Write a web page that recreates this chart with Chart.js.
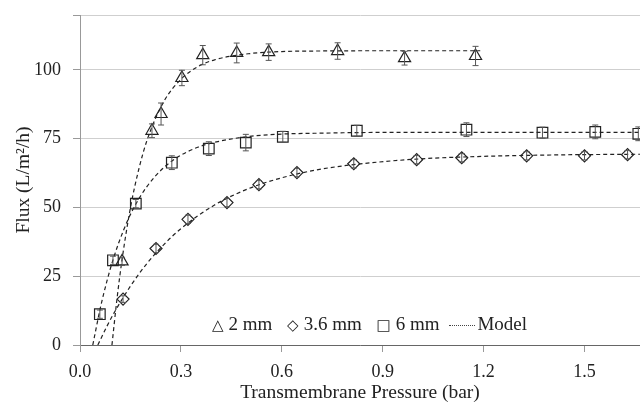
<!DOCTYPE html>
<html>
<head>
<meta charset="utf-8">
<script src="https://cdn.jsdelivr.net/npm/chart.js@4.4.0/dist/chart.umd.min.js"></script>
<style>
  html, body { margin: 0; padding: 0; background: #fff; overflow: hidden; }
  #wrap { position: relative; width: 640px; height: 405px; }
  #legend { position: absolute; left: 212px; top: 312px; font-family: 'Liberation Serif', serif; font-size: 19px; line-height: 24px; color: #222; white-space: nowrap; }
  #legend .mk { font-family: 'DejaVu Sans', sans-serif; font-size: 15px; margin-right: 5px; }
  #legend .it { margin-right: 10px; }
  #legend .ln { display: inline-block; width: 26px; border-top: 1px dotted #444; vertical-align: middle; margin-right: 2px; }
</style>
</head>
<body>
<div id="wrap">
  <canvas id="myChart" width="640" height="405"></canvas>
  <div id="legend">
    <span class="mk">△</span><span class="it">2 mm</span>
    <span class="mk">◇</span><span class="it">3.6 mm</span>
    <span class="mk">□</span><span class="it">6 mm</span><span class="ln"></span>Model
  </div>
</div>
<script>
// measured points, 2 mm channel
var P2 = [0.125, 0.214, 0.241, 0.303, 0.365, 0.466, 0.561, 0.766, 0.965, 1.176];
var J2 = [30.4, 77.9, 84.0, 97.1, 105.4, 106.2, 106.5, 106.9, 104.3, 105.1];
var E2 = [1.5, 2.5, 4.0, 2.8, 3.5, 3.6, 3.0, 3.0, 2.5, 3.5];

// 3.6 mm
var P36 = [0.128, 0.226, 0.321, 0.437, 0.532, 0.645, 0.814, 1.001, 1.135, 1.328, 1.500, 1.628];
var J36 = [16.7, 35.1, 45.7, 51.8, 58.3, 62.7, 65.9, 67.4, 68.1, 68.8, 68.8, 69.2];
var E36 = [1.2, 1.5, 1.5, 1.5, 1.5, 1.5, 1.5, 1.5, 1.5, 1.5, 1.5, 1.5];

// 6 mm
var P6 = [0.059, 0.098, 0.166, 0.273, 0.383, 0.493, 0.603, 0.823, 1.149, 1.375, 1.532, 1.660];
var J6 = [11.2, 30.8, 51.4, 66.3, 71.4, 73.6, 75.7, 77.9, 78.3, 77.2, 77.5, 76.8];
var E6 = [1.5, 1.5, 1.5, 2.5, 2.5, 3.0, 2.0, 2.0, 2.5, 2.0, 2.5, 2.5];

// model curves
var M2x = [0.095, 0.11, 0.125, 0.15, 0.175, 0.2, 0.25, 0.3, 0.35, 0.4, 0.5, 0.6, 0.7, 0.9, 1.19];
var M2y = [0, 16.8, 31, 49.9, 64, 74.7, 88.7, 96.6, 101.2, 103.7, 105.9, 106.7, 106.9, 107, 107];
var M36x = [0.053, 0.08, 0.1, 0.15, 0.2, 0.25, 0.3, 0.4, 0.5, 0.6, 0.7, 0.8, 1.0, 1.2, 1.4, 1.7];
var M36y = [0, 6.8, 11.4, 21.4, 29.8, 36.6, 42.3, 50.9, 56.8, 60.8, 63.6, 65.4, 67.6, 68.6, 69.1, 69.4];
var M6x = [0.038, 0.06, 0.08, 0.1, 0.13, 0.16, 0.2, 0.25, 0.3, 0.35, 0.4, 0.5, 0.6, 0.7, 0.9, 1.2, 1.7];
var M6y = [0, 13.2, 23.2, 31.7, 41.9, 49.9, 57.8, 64.6, 69.0, 71.9, 73.7, 75.8, 76.7, 77.0, 77.3, 77.3, 77.3];

var xTicks = [0, 0.3, 0.6, 0.9, 1.2, 1.5];
var yTicks = [0, 25, 50, 75, 100];

function pts(xs, ys)
{
    var out = [];
    for (var i = 0; i < xs.length; i++) out.push({x: xs[i], y: ys[i]});
    return out;
}

function modelSet(xs, ys)
{
    return {
        label: 'Model', data: pts(xs, ys), showLine: true, pointRadius: 0,
        borderColor: '#222', borderWidth: 1.2, borderDash: [4, 3],
        tension: 0.4, cubicInterpolationMode: 'monotone', fill: false
    };
}

function markerSet(label, xs, ys, errs, style, r)
{
    return {
        label: label, data: pts(xs, ys), errors: errs, showLine: false,
        pointStyle: style, pointRadius: r, pointBorderColor: '#222',
        pointBackgroundColor: 'rgba(255,255,255,0)', pointBorderWidth: 1.2
    };
}

var errorBars = {
    id: 'errorBars',
    afterDatasetsDraw: function(chart)
    {
        var ctx = chart.ctx, xs = chart.scales.x, ys = chart.scales.y, a = chart.chartArea;
        ctx.save();
        ctx.beginPath();
        ctx.rect(a.left, a.top, a.right - a.left, a.bottom - a.top);
        ctx.clip();
        ctx.strokeStyle = '#555';
        ctx.lineWidth = 1;
        chart.data.datasets.forEach(function(ds)
        {
            if (!ds.errors) return;
            ds.data.forEach(function(p, i)
            {
                var px = xs.getPixelForValue(p.x);
                var y1 = ys.getPixelForValue(p.y + ds.errors[i]);
                var y2 = ys.getPixelForValue(p.y - ds.errors[i]);
                ctx.beginPath();
                ctx.moveTo(px, y1); ctx.lineTo(px, y2);
                ctx.moveTo(px - 3, y1); ctx.lineTo(px + 3, y1);
                ctx.moveTo(px - 3, y2); ctx.lineTo(px + 3, y2);
                ctx.stroke();
            });
        });
        ctx.restore();
    }
};

var tickFont = {family: "'Liberation Serif', serif", size: 18};
var titleFont = {family: "'Liberation Serif', serif", size: 19.5};

var ctx = document.getElementById('myChart').getContext('2d');
var chart = new Chart(ctx, {
    type: 'scatter',
    data: {
        datasets: [
            modelSet(M2x, M2y), modelSet(M36x, M36y), modelSet(M6x, M6y),
            markerSet('2 mm', P2, J2, E2, 'triangle', 7),
            markerSet('3.6 mm', P36, J36, E36, 'rectRot', 6),
            markerSet('6 mm', P6, J6, E6, 'rect', 7.5)
        ]
    },
    options: {
        responsive: false, animation: false,
        layout: {autoPadding: false, padding: {top: 15, right: 0, left: 0, bottom: 0}},
        plugins: {legend: {display: false}, tooltip: {enabled: false}},
        scales: {
            x: {
                type: 'linear', min: 0, max: 1.665,
                afterBuildTicks: function(s) { s.ticks = xTicks.map(function(v) { return {value: v}; }); },
                afterFit: function(s) { s.height = 60; s.paddingLeft = 0; s.paddingRight = 0; },
                ticks: {color: '#222', font: tickFont, padding: 9, callback: function(v) { return v.toFixed(1); }},
                grid: {drawOnChartArea: false, tickLength: 7, color: '#999'},
                border: {color: '#666', dash: [2, 1]},
                title: {display: true, text: 'Transmembrane Pressure (bar)', color: '#222', font: titleFont, padding: {top: 0, bottom: 0}}
            },
            y: {
                min: 0, max: 120,
                afterBuildTicks: function(s) { s.ticks = yTicks.concat([120]).map(function(v) { return {value: v}; }); },
                afterFit: function(s) { s.width = 80; s.paddingTop = 0; s.paddingBottom = 0; },
                ticks: {color: '#222', font: tickFont, padding: 12, callback: function(v) { return v === 120 ? '' : v; }},
                grid: {color: '#cfcfcf', tickLength: 7, tickColor: '#999'},
                border: {color: '#999'},
                title: {display: true, text: 'Flux (L/m\u00b2/h)', color: '#222', font: titleFont, padding: {top: 12, bottom: 0}}
            }
        }
    },
    plugins: [errorBars]
});
</script>
</body>
</html>
